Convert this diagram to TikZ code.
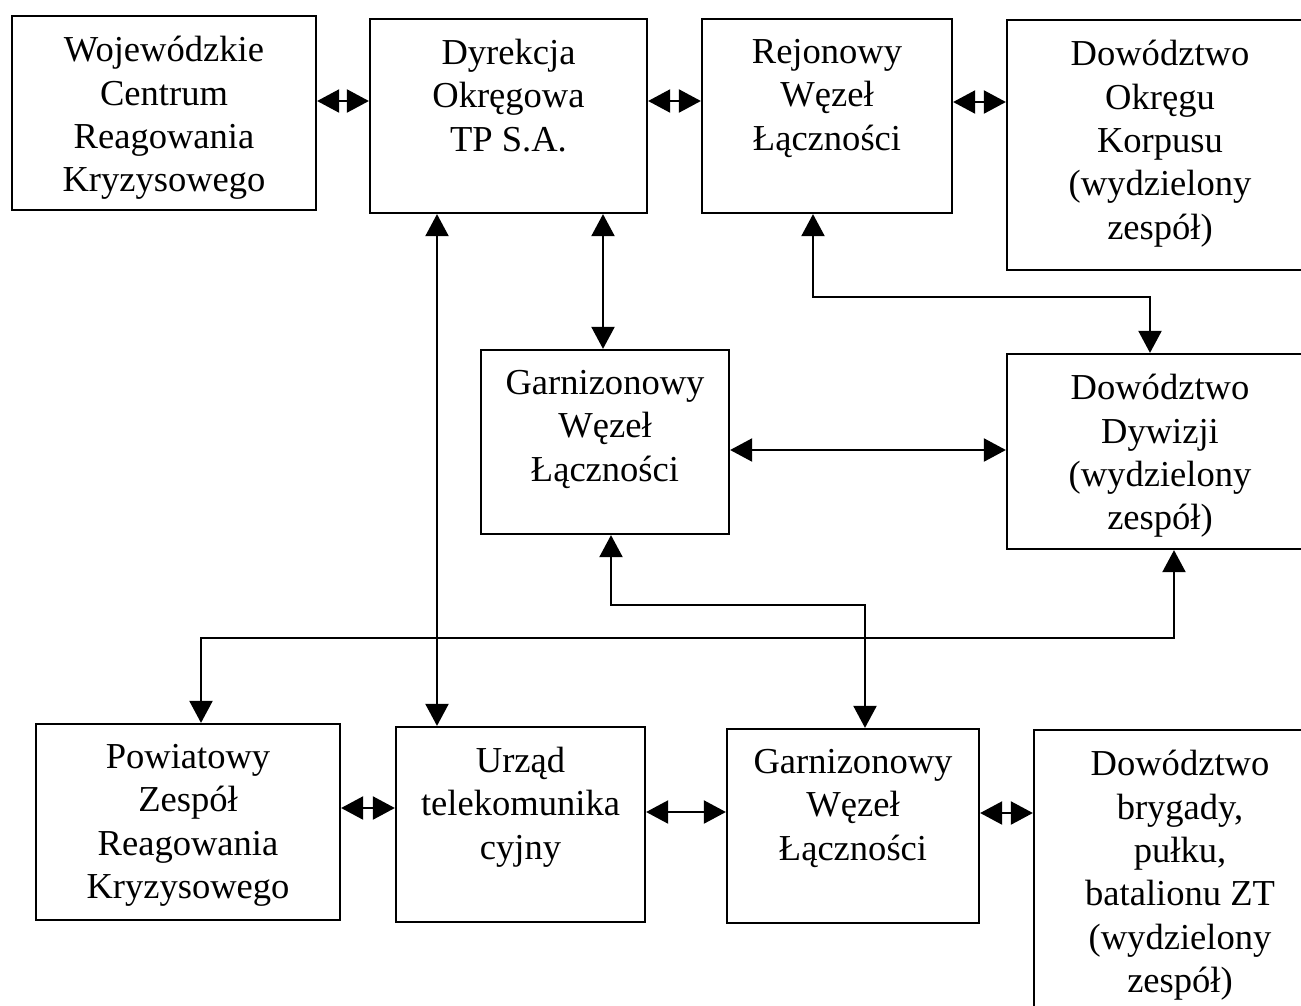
\documentclass[tikz,border=0pt]{standalone}
\usepackage{fontspec}
\setmainfont{Liberation Serif}
\usetikzlibrary{arrows.meta}
\begin{document}
\begin{tikzpicture}[x=0.02cm, y=-0.02cm,
  box/.style={draw, line width=1.3pt, inner sep=0pt, fill=white},
  lbl/.style={anchor=north, inner sep=0pt, align=center,
    font=\fontsize{20.8pt}{24.7pt}\selectfont,
    execute at begin node={\rule{0pt}{0.6cm}}, yshift=-0.42cm},
  link/.style={line width=1.2pt,
    {Triangle[length=0.44cm,width=0.46cm]}-{Triangle[length=0.44cm,width=0.46cm]}}]
  \clip (0,0) rectangle (1301,1005);
  \fill[white] (0,0) rectangle (1301,1005);

  % boxes
  \node[box, minimum width=6.08cm, minimum height=3.88cm] (b1) at (164,113) {};
  \node[box, minimum width=5.54cm, minimum height=3.88cm] (b2) at (508.5,116) {};
  \node[box, minimum width=5.00cm, minimum height=3.88cm] (b3) at (827,116) {};
  \node[box, minimum width=6.12cm, minimum height=5.00cm] (b4) at (1160,145) {};
  \node[box, minimum width=4.96cm, minimum height=3.68cm] (b5) at (605,442) {};
  \node[box, minimum width=6.12cm, minimum height=3.90cm] (b6) at (1160,451.5) {};
  \node[box, minimum width=6.08cm, minimum height=3.92cm] (b7) at (188,822) {};
  \node[box, minimum width=4.98cm, minimum height=3.90cm] (b8) at (520.5,824.5) {};
  \node[box, minimum width=5.04cm, minimum height=3.88cm] (b9) at (853,826) {};
  \node[box, minimum width=5.84cm, minimum height=5.70cm] (b10) at (1180,872.5) {};

  % texts
  \node[lbl] (t1) at (b1.north) {Wojewódzkie\\Centrum\\Reagowania\\Kryzysowego};
  \node[lbl] (t2) at (b2.north) {Dyrekcja\\Okręgowa\\TP S.A.};
  \node[lbl] (t3) at (b3.north) {Rejonowy\\Węzeł\\Łączności};
  \node[lbl] (t4) at (b4.north) {Dowództwo\\Okręgu\\Korpusu\\(wydzielony\\zespół)};
  \node[lbl] (t5) at (b5.north) {Garnizonowy\\Węzeł\\Łączności};
  \node[lbl] (t6) at (b6.north) {Dowództwo\\Dywizji\\(wydzielony\\zespół)};
  \node[lbl] (t7) at (b7.north) {Powiatowy\\Zespół\\Reagowania\\Kryzysowego};
  \node[lbl] (t8) at (b8.north) {Urząd\\telekomunika\\cyjny};
  \node[lbl] (t9) at (b9.north) {Garnizonowy\\Węzeł\\Łączności};
  \node[lbl] (t10) at (b10.north) {Dowództwo\\brygady,\\pułku,\\batalionu ZT\\(wydzielony\\zespół)};

  % helper coordinates for connector levels
  \coordinate (hA) at (0,101);
  \coordinate (hB) at (0,102);
  \coordinate (hC) at (0,450);
  \coordinate (hD) at (0,808);
  \coordinate (hE) at (0,812);
  \coordinate (hF) at (0,813);
  \coordinate (v1) at (437,0);
  \coordinate (v2) at (603,0);
  \coordinate (e1) at (813,297);
  \coordinate (e2) at (1150,297);
  \coordinate (e3) at (611,605);
  \coordinate (e4) at (865,605);
  \coordinate (e5) at (1174,638);
  \coordinate (e6) at (201,638);

  % horizontal links
  \draw[link] (b1.east |- hA) -- (b2.west |- hA);
  \draw[link] (b2.east |- hA) -- (b3.west |- hA);
  \draw[link] (b3.east |- hB) -- (b4.west |- hB);
  \draw[link] (b5.east |- hC) -- (b6.west |- hC);
  \draw[link] (b7.east |- hD) -- (b8.west |- hD);
  \draw[link] (b8.east |- hE) -- (b9.west |- hE);
  \draw[link] (b9.east |- hF) -- (b10.west |- hF);

  % vertical links
  \draw[link] (b2.south -| v1) -- (b8.north -| v1);
  \draw[link] (b2.south -| v2) -- (b5.north -| v2);

  % elbow links
  \draw[link] (b3.south -| e1) -- (e1) -- (e2) -- (b6.north -| e2);
  \draw[link] (b5.south -| e3) -- (e3) -- (e4) -- (b9.north -| e4);
  \draw[link] (b6.south -| e5) -- (e5) -- (e6) -- (b7.north -| e6);
\end{tikzpicture}
\end{document}
